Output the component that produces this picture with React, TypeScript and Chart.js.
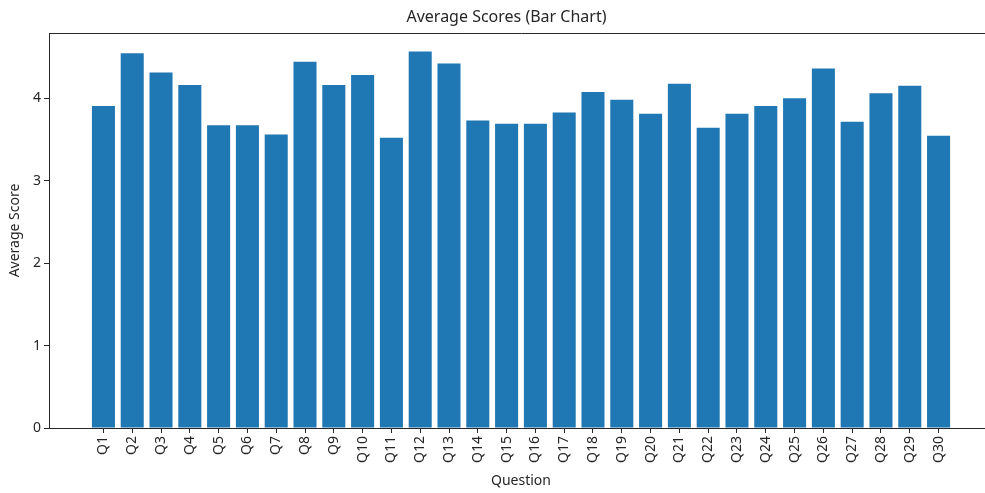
import React, { useEffect, useRef } from "react";
import { Chart, registerables } from "chart.js";

Chart.register(...registerables);

const categories = [
  "Q1", "Q2", "Q3", "Q4", "Q5", "Q6", "Q7", "Q8", "Q9", "Q10",
  "Q11", "Q12", "Q13", "Q14", "Q15", "Q16", "Q17", "Q18", "Q19", "Q20",
  "Q21", "Q22", "Q23", "Q24", "Q25", "Q26", "Q27", "Q28", "Q29", "Q30",
];

const averageScores = [
  3.905, 4.545, 4.31, 4.16, 3.67, 3.67, 3.56, 4.44, 4.16, 4.28,
  3.52, 4.565, 4.42, 3.73, 3.69, 3.69, 3.825, 4.075, 3.98, 3.81,
  4.175, 3.64, 3.81, 3.905, 4.0, 4.36, 3.715, 4.06, 4.15, 3.545,
];

const yTickValues = [0, 1, 2, 3, 4];

const TITLE = "Average Scores (Bar Chart)";
const FONT = "'Noto Sans', 'DejaVu Sans', sans-serif";
const INK = "#262626";

const frameAndTitle = {
  id: "frameAndTitle",
  afterDraw(chart: any) {
    const { ctx, chartArea } = chart;
    ctx.save();
    ctx.strokeStyle = INK;
    ctx.lineWidth = 1;
    const l = Math.round(chartArea.left) + 0.5;
    const t = Math.round(chartArea.top) + 0.5;
    const r = Math.round(chartArea.right) + 0.5;
    ctx.beginPath();
    ctx.moveTo(l, t);
    ctx.lineTo(r, t);
    ctx.stroke();
    ctx.fillStyle = INK;
    ctx.font = `16px ${FONT}`;
    ctx.textAlign = "center";
    ctx.textBaseline = "middle";
    ctx.fillText(TITLE, 506.5, 17);
    ctx.restore();
  },
};

export default function App() {
  const ref = useRef<HTMLCanvasElement | null>(null);

  useEffect(() => {
    document.body.style.margin = "0";
    const n = categories.length;
    const chart = new Chart(ref.current as HTMLCanvasElement, {
      type: "bar",
      data: {
        datasets: [
          {
            label: "Average Score",
            data: averageScores.map((v, i) => ({ x: i, y: v })),
            backgroundColor: "#1f77b4",
            borderWidth: 0,
            categoryPercentage: 1,
            barPercentage: 0.8,
          },
        ],
      },
      options: {
        animation: false,
        responsive: false,
        layout: { padding: { left: 0, right: 7, top: 33, bottom: 0 } },
        plugins: {
          legend: { display: false },
          tooltip: { enabled: false },
          title: { display: false },
        },
        scales: {
          x: {
            type: "linear",
            offset: false,
            min: -1.89,
            max: n - 1 + 1.89,
            afterBuildTicks: (scale: any) => {
              scale.ticks = categories.map((_, i) => ({ value: i }));
            },
            afterFit: (scale: any) => {
              scale.height = 65;
            },
            ticks: {
              autoSkip: false,
              minRotation: 90,
              maxRotation: 90,
              padding: 3,
              color: INK,
              font: { family: FONT, size: 14 },
              callback: (v: any) => categories[v] ?? "",
            },
            grid: {
              offset: false,
              drawOnChartArea: false,
              drawTicks: true,
              tickLength: 5,
              tickColor: INK,
            },
            border: { display: true, color: INK },
            title: {
              display: true,
              text: "Question",
              color: INK,
              font: { family: FONT, size: 14 },
              padding: { top: 0, bottom: 4 },
            },
          },
          y: {
            min: 0,
            max: 4.79,
            afterBuildTicks: (scale: any) => {
              scale.ticks = yTickValues.map((v) => ({ value: v }));
            },
            afterFit: (scale: any) => {
              scale.width = 49;
            },
            ticks: {
              color: INK,
              padding: 3,
              font: { family: FONT, size: 14 },
            },
            grid: {
              drawOnChartArea: false,
              drawTicks: true,
              tickLength: 5,
              tickColor: INK,
            },
            border: { display: true, color: INK },
            title: {
              display: true,
              text: "Average Score",
              color: INK,
              font: { family: FONT, size: 14 },
              padding: { top: 7, bottom: 0 },
            },
          },
        },
      } as any,
      plugins: [frameAndTitle],
    });
    return () => chart.destroy();
  }, []);

  return (
    <div style={{ position: "absolute", left: 0, top: 0, width: 985, height: 493, overflow: "hidden", background: "#fff" }}>
      <canvas ref={ref} width={1000} height={493} style={{ display: "block" }} />
    </div>
  );
}
